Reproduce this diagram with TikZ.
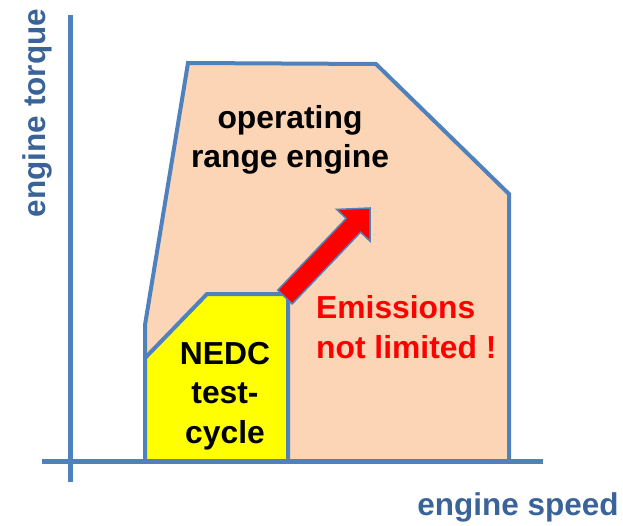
\documentclass[tikz,border=0pt]{standalone}
\usepackage{fontspec}
\setmainfont{Liberation Sans}
\usetikzlibrary{positioning,calc}
\definecolor{axisLine}{HTML}{4F81BD}
\definecolor{axisText}{HTML}{3A6498}
\definecolor{rangeFill}{HTML}{FBD5B5}
\definecolor{cycleFill}{HTML}{FFFF00}
\definecolor{hotRed}{HTML}{FF0000}
\tikzset{
  % --- axes ---------------------------------------------------------------
  axis/.style      = {draw=axisLine, line width=5pt},
  axislbl/.style   = {font=\fontsize{31.5}{38}\selectfont\bfseries, text=axisText},
  % --- regions ------------------------------------------------------------
  region/.style    = {draw=axisLine, line width=4pt, line join=miter},
  opregion/.style  = {region, fill=rangeFill},
  nedcregion/.style= {region, fill=cycleFill},
  % --- labels -------------------------------------------------------------
  biglbl/.style    = {font=\fontsize{31.8}{39.5}\selectfont\bfseries, align=center},
  blockarrow/.style= {draw=axisLine, fill=hotRed, line width=1.5pt, line join=miter},
}

\begin{document}
\begin{tikzpicture}[x=1pt, y=-1pt]
\useasboundingbox (0,0) rectangle (623,525);

% ==================== operating range of the engine ========================
\draw[opregion] (145,461) -- (145,325) -- (188,63) -- (376,64) -- (509,194)
      -- (509,461) -- cycle;
\node[biglbl] (oprange) at (290,140) {operating\\range engine};

% ==================== NEDC test cycle ======================================
\draw[nedcregion] (145,461) -- (145,358) -- (207,294) -- (288,294) -- (288,461)
      -- cycle;
\node[biglbl] (nedc) at (225,396) {NEDC\\test-\\cycle};

% ==================== axes ================================================
\draw[axis] (70,15) -- (70,482);
\draw[axis] (42,461) -- (543,461);
\node[axislbl, rotate=90] (torque) at (37,113) {engine torque};
\node[axislbl] (speed) at (518,507) {engine speed};

% ==================== emissions arrow =====================================
\coordinate (tail) at (285,297);
\coordinate (tip)  at (370,208);
\draw[blockarrow] (292.2,303.9) -- (360.6,232.2) -- (370.1,241.2) -- (tip)
      -- (336.7,209.4) -- (346.2,218.4) -- (277.8,290.1) -- cycle;
\node[biglbl, text=hotRed, align=left, anchor=west, inner xsep=0pt] (emis)
      at (316,327) {Emissions\\not limited !};

\end{tikzpicture}
\end{document}
